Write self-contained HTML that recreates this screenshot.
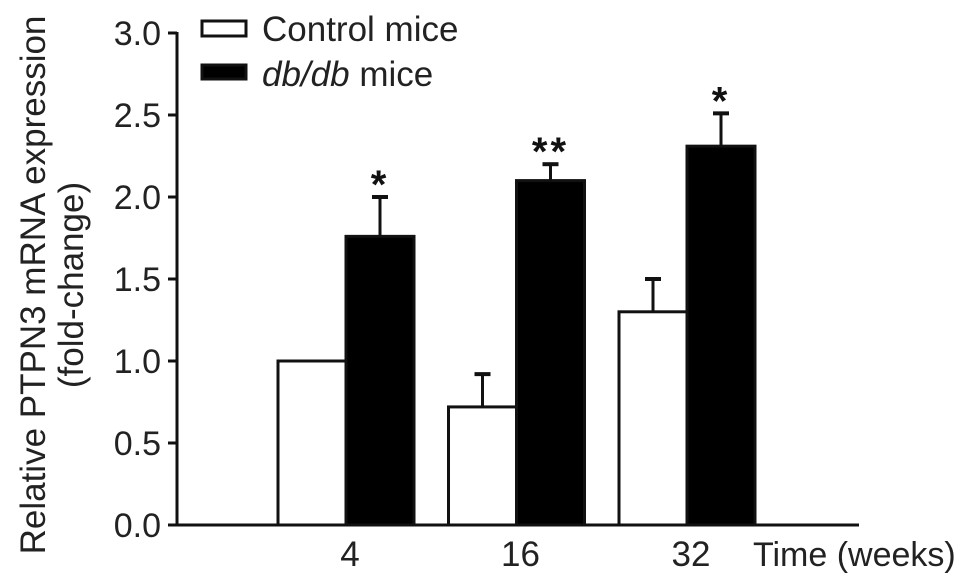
<!DOCTYPE html>
<html><head><meta charset="utf-8"><style>
html,body{margin:0;padding:0;background:#fff;}
svg{display:block;font-family:"Liberation Sans",Arial,sans-serif;}
</style></head><body>
<svg id="chart" width="969" height="587" viewBox="0 0 969 587">
<g id="plot"></g>
<g>
<rect x="202" y="21" width="44" height="15" fill="#fff" stroke="#111" stroke-width="3"/>
<text x="262" y="41" font-size="35" fill="#222">Control mice</text>
<rect x="202" y="65" width="44" height="14" fill="#000" stroke="#111" stroke-width="3"/>
<text x="262" y="86" font-size="35" fill="#222"><tspan font-style="italic">db/db</tspan> mice</text>
</g>
<g transform="translate(45,285) rotate(-90)">
<text x="0" y="0" text-anchor="middle" font-size="35" fill="#222">Relative PTPN3 mRNA expression</text>
<text x="0" y="38" text-anchor="middle" font-size="35" fill="#222">(fold-change)</text>
</g>
<text x="753" y="566" font-size="34" fill="#222">Time (weeks)</text>
</svg>
<script>
const categories = ["4","16","32"];
const controlValues = [1.0, 0.72, 1.30];
const controlErrors = [0.0, 0.20, 0.20];
const dbValues = [1.76, 2.10, 2.31];
const dbErrors = [0.24, 0.10, 0.20];
const dbStars = ["*","**","*"];
const yTicks = [0,0.5,1.0,1.5,2.0,2.5,3.0];
const yTickLabels = ["0.0","0.5","1.0","1.5","2.0","2.5","3.0"];

const NS="http://www.w3.org/2000/svg";
const plot=document.getElementById('plot');
const X0=177, Y0=525, YTOP=33, YMAX=3;
const y=v=>Y0-(v/YMAX)*(Y0-YTOP);
const groupStart=278, groupPitch=170.5, barW=68;
const xCtrl=i=>groupStart+i*groupPitch;
const xDb=i=>xCtrl(i)+barW;
function mk(tag,attrs){const e=document.createElementNS(NS,tag);for(const k in attrs)e.setAttribute(k,attrs[k]);plot.appendChild(e);return e;}

function errBar(cx,top,err,name){
  if(err<=0)return;
  const l=mk('line',{x1:cx,x2:cx,y1:y(top),y2:y(top+err),stroke:'#111','stroke-width':3});
  
  
  const c=mk('line',{x1:cx-8,x2:cx+8,y1:y(top+err),y2:y(top+err),stroke:'#111','stroke-width':4});
  
  
}

categories.forEach((c,i)=>{
  const r1=mk('rect',{x:xCtrl(i),y:y(controlValues[i]),width:barW,height:Y0-y(controlValues[i]),fill:'#fff',stroke:'#111','stroke-width':3});
  
  
  errBar(xCtrl(i)+barW/2,controlValues[i],controlErrors[i],'control-'+c);
  const r2=mk('rect',{x:xDb(i),y:y(dbValues[i]),width:barW,height:Y0-y(dbValues[i]),fill:'#000',stroke:'#111','stroke-width':3});
  
  
  errBar(xDb(i)+barW/2,dbValues[i],dbErrors[i],'dbdb-'+c);
  const s=mk('text',{x:xDb(i)+barW/2,y:y(dbValues[i]+dbErrors[i])+1,'text-anchor':'middle','font-size':40,'font-weight':'bold',fill:'#111','letter-spacing':'3'});
  s.textContent=dbStars[i];
  
  
  const t=mk('text',{x:xDb(i)+4,y:566,'text-anchor':'middle','font-size':35,fill:'#222'});
  t.textContent=c;
  
  
});

yTicks.forEach((v,i)=>{
  const tk=mk('line',{x1:X0-9,x2:X0,y1:y(v),y2:y(v),stroke:'#111','stroke-width':3});
  
  
  const tl=mk('text',{x:X0-16,y:y(v)+12,'text-anchor':'end','font-size':34,fill:'#222'});
  tl.textContent=yTickLabels[i];
  
  
});
const ya=mk('line',{x1:X0,x2:X0,y1:YTOP-1,y2:Y0+1.5,stroke:'#111','stroke-width':3});


const xa=mk('line',{x1:X0-1.5,x2:859,y1:Y0,y2:Y0,stroke:'#111','stroke-width':3});


</script>
</body></html>
